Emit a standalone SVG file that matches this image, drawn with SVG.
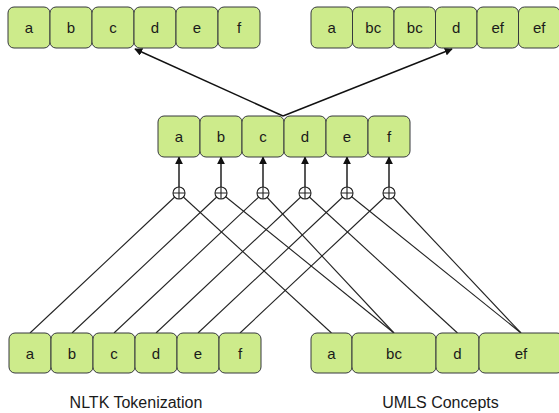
<svg xmlns="http://www.w3.org/2000/svg" width="559" height="413" viewBox="0 0 559 413">
<style>
.box{fill:#cdeb8b;stroke:#36393d;stroke-width:1}
.t{font-family:"Liberation Sans",Arial,sans-serif;font-size:15px;fill:#1a1a1a;text-anchor:middle}
.lbl{font-family:"Liberation Sans",Arial,sans-serif;font-size:16px;fill:#1a1a1a;text-anchor:middle}
.ln{stroke:#222;stroke-width:1.1;fill:none}
.ar{stroke:#111;stroke-width:1.4;fill:none;marker-end:url(#ah)}
.or{fill:#fff;stroke:#222;stroke-width:1.1}
</style>
<defs>
<marker id="ah" viewBox="0 0 10 10" refX="9" refY="5" markerWidth="8" markerHeight="8" markerUnits="userSpaceOnUse" orient="auto">
<path d="M0,0 L10,5 L0,10 Z" fill="#111"/>
</marker>
</defs>
<rect width="559" height="413" fill="#fff"/>
<g id="connectors">
<line class="ln" x1="30" y1="333" x2="179" y2="193"/>
<line class="ln" x1="72" y1="333" x2="221" y2="193"/>
<line class="ln" x1="114" y1="333" x2="263" y2="193"/>
<line class="ln" x1="156" y1="333" x2="305" y2="193"/>
<line class="ln" x1="198" y1="333" x2="347" y2="193"/>
<line class="ln" x1="240" y1="333" x2="389" y2="193"/>
<line class="ln" x1="331.5" y1="333" x2="179" y2="193"/>
<line class="ln" x1="394" y1="333" x2="221" y2="193"/>
<line class="ln" x1="394" y1="333" x2="263" y2="193"/>
<line class="ln" x1="457.5" y1="333" x2="305" y2="193"/>
<line class="ln" x1="521" y1="333" x2="347" y2="193"/>
<line class="ln" x1="521" y1="333" x2="389" y2="193"/>
<line class="ar" x1="179" y1="187" x2="179" y2="157"/>
<line class="ar" x1="221" y1="187" x2="221" y2="157"/>
<line class="ar" x1="263" y1="187" x2="263" y2="157"/>
<line class="ar" x1="305" y1="187" x2="305" y2="157"/>
<line class="ar" x1="347" y1="187" x2="347" y2="157"/>
<line class="ar" x1="389" y1="187" x2="389" y2="157"/>
<line class="ar" x1="283" y1="116" x2="135" y2="49"/>
<line class="ar" x1="283" y1="116" x2="452" y2="49"/>
</g>
<g id="or-nodes">
<g id="or-a"><circle class="or" cx="179" cy="193" r="6"/><path class="ln" d="M173,193H185M179,187V199"/></g>
<g id="or-b"><circle class="or" cx="221" cy="193" r="6"/><path class="ln" d="M215,193H227M221,187V199"/></g>
<g id="or-c"><circle class="or" cx="263" cy="193" r="6"/><path class="ln" d="M257,193H269M263,187V199"/></g>
<g id="or-d"><circle class="or" cx="305" cy="193" r="6"/><path class="ln" d="M299,193H311M305,187V199"/></g>
<g id="or-e"><circle class="or" cx="347" cy="193" r="6"/><path class="ln" d="M341,193H353M347,187V199"/></g>
<g id="or-f"><circle class="or" cx="389" cy="193" r="6"/><path class="ln" d="M383,193H395M389,187V199"/></g>
</g>
<g id="top-left">
<g id="tl-a"><rect class="box" x="8" y="7" width="42" height="41" rx="6"/><text class="t" x="29" y="33">a</text></g>
<g id="tl-b"><rect class="box" x="50" y="7" width="42" height="41" rx="6"/><text class="t" x="71" y="33">b</text></g>
<g id="tl-c"><rect class="box" x="92" y="7" width="42" height="41" rx="6"/><text class="t" x="113" y="33">c</text></g>
<g id="tl-d"><rect class="box" x="134" y="7" width="42" height="41" rx="6"/><text class="t" x="155" y="33">d</text></g>
<g id="tl-e"><rect class="box" x="176" y="7" width="42" height="41" rx="6"/><text class="t" x="197" y="33">e</text></g>
<g id="tl-f"><rect class="box" x="218" y="7" width="42" height="41" rx="6"/><text class="t" x="239" y="33">f</text></g>
</g>
<g id="top-right">
<g id="tr-a"><rect class="box" x="311" y="7" width="41.5" height="41" rx="6"/><text class="t" x="331.75" y="33">a</text></g>
<g id="tr-bc1"><rect class="box" x="352.5" y="7" width="41.5" height="41" rx="6"/><text class="t" x="373.25" y="33">bc</text></g>
<g id="tr-bc2"><rect class="box" x="394" y="7" width="41.5" height="41" rx="6"/><text class="t" x="414.75" y="33">bc</text></g>
<g id="tr-d"><rect class="box" x="435.5" y="7" width="41.5" height="41" rx="6"/><text class="t" x="456.25" y="33">d</text></g>
<g id="tr-ef1"><rect class="box" x="477" y="7" width="41.5" height="41" rx="6"/><text class="t" x="497.75" y="33">ef</text></g>
<g id="tr-ef2"><rect class="box" x="518.5" y="7" width="41.5" height="41" rx="6"/><text class="t" x="539.25" y="33">ef</text></g>
</g>
<g id="middle">
<g id="m-a"><rect class="box" x="158" y="116" width="42" height="41" rx="6"/><text class="t" x="179" y="142">a</text></g>
<g id="m-b"><rect class="box" x="200" y="116" width="42" height="41" rx="6"/><text class="t" x="221" y="142">b</text></g>
<g id="m-c"><rect class="box" x="242" y="116" width="42" height="41" rx="6"/><text class="t" x="263" y="142">c</text></g>
<g id="m-d"><rect class="box" x="284" y="116" width="42" height="41" rx="6"/><text class="t" x="305" y="142">d</text></g>
<g id="m-e"><rect class="box" x="326" y="116" width="42" height="41" rx="6"/><text class="t" x="347" y="142">e</text></g>
<g id="m-f"><rect class="box" x="368" y="116" width="42" height="41" rx="6"/><text class="t" x="389" y="142">f</text></g>
</g>
<g id="bottom-left">
<g id="bl-a"><rect class="box" x="9" y="333" width="42" height="40" rx="6"/><text class="t" x="30" y="359">a</text></g>
<g id="bl-b"><rect class="box" x="51" y="333" width="42" height="40" rx="6"/><text class="t" x="72" y="359">b</text></g>
<g id="bl-c"><rect class="box" x="93" y="333" width="42" height="40" rx="6"/><text class="t" x="114" y="359">c</text></g>
<g id="bl-d"><rect class="box" x="135" y="333" width="42" height="40" rx="6"/><text class="t" x="156" y="359">d</text></g>
<g id="bl-e"><rect class="box" x="177" y="333" width="42" height="40" rx="6"/><text class="t" x="198" y="359">e</text></g>
<g id="bl-f"><rect class="box" x="219" y="333" width="42" height="40" rx="6"/><text class="t" x="240" y="359">f</text></g>
</g>
<g id="bottom-right">
<g id="br-a"><rect class="box" x="311" y="333" width="41" height="40" rx="6"/><text class="t" x="331.5" y="359">a</text></g>
<g id="br-bc"><rect class="box" x="352" y="333" width="84" height="40" rx="6"/><text class="t" x="394" y="359">bc</text></g>
<g id="br-d"><rect class="box" x="436" y="333" width="43" height="40" rx="6"/><text class="t" x="457.5" y="359">d</text></g>
<g id="br-ef"><rect class="box" x="479" y="333" width="84" height="40" rx="6"/><text class="t" x="521" y="359">ef</text></g>
</g>
<g id="labels">
<text class="lbl" x="136" y="408">NLTK Tokenization</text>
<text class="lbl" x="440.5" y="408">UMLS Concepts</text>
</g>
</svg>
